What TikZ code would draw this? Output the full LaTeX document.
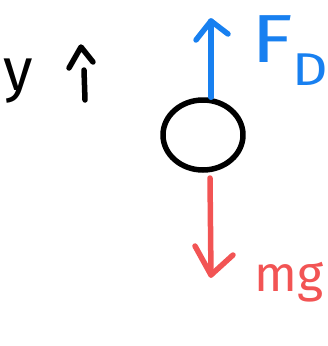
\documentclass[tikz,border=0pt]{standalone}
\usepackage{fontspec}
\usetikzlibrary{shapes.geometric}
\setmainfont{Fira Sans}
\definecolor{penblue}{RGB}{24,128,240}
\definecolor{penred}{RGB}{242,84,84}
\tikzset{
  pen/.style={line width=5.5pt, line cap=round, line join=round},
  lbl/.style={inner sep=0pt, anchor=base west},
}
\begin{document}
\begin{tikzpicture}[x=1pt,y=-1pt]
  \useasboundingbox (0,0) rectangle (328,346);
  % axis label and its direction mark
  \node[lbl, font=\fontsize{60}{60}\selectfont] (ylab) at (3,90) {y};
  \coordinate (ytail) at (85,100);
  \coordinate (ytip) at (81,47);
  \draw[pen] (ytail) -- (84,70);
  \draw[pen] (69,68) -- (ytip) -- (93,62);
  % the body
  \node[draw, pen, ellipse, minimum width=80pt, minimum height=70pt, inner sep=0pt] (ball) at (203,135) {};
  % drag force, upward
  \coordinate (fdtip) at (211,21);
  \draw[pen, penblue] (ball.north) ++(8,0) coordinate (fdtail) -- (fdtip);
  \draw[pen, penblue] (196,40) -- (fdtip) -- (228,34);
  \node[lbl, text=penblue, font=\fontsize{68}{68}\selectfont] (fd) at (251,62) {\scalebox{1.25}[1]{F}\raisebox{-0.35em}{\fontsize{46}{46}\selectfont\scalebox{1.2}[1]{D}}};
  % weight, downward
  \coordinate (mgtip) at (211,275);
  \draw[pen, penred] (210,178) coordinate (mgtail) -- (mgtip);
  \draw[pen, penred] (195,246) -- (mgtip) -- (233,255);
  \node[lbl, text=penred, font=\fontsize{50}{50}\selectfont] (mg) at (254,291) {mg};
\end{tikzpicture}
\end{document}
